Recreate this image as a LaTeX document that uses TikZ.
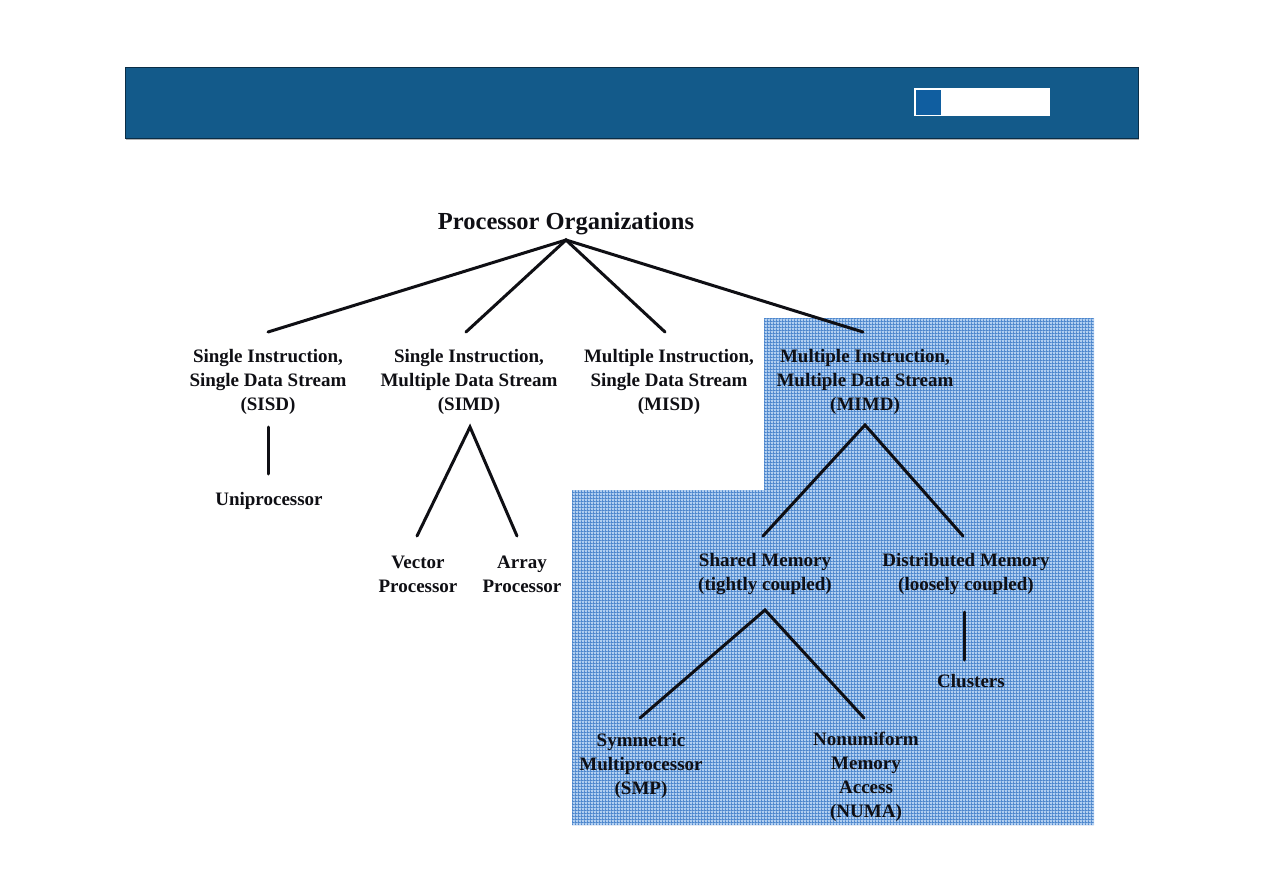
\documentclass[tikz,border=0pt]{standalone}
\usepackage{fontspec}
\setmainfont{Liberation Serif}
\usetikzlibrary{patterns}
\pgfdeclarepatternformonly{finegrid}{\pgfpointorigin}{\pgfpoint{3.2pt}{3.2pt}}{\pgfpoint{3.2pt}{3.2pt}}{%
  \pgfsetlinewidth{1pt}%
  \pgfpathmoveto{\pgfpoint{0pt}{0.5pt}}\pgfpathlineto{\pgfpoint{3.2pt}{0.5pt}}%
  \pgfpathmoveto{\pgfpoint{0.5pt}{0pt}}\pgfpathlineto{\pgfpoint{0.5pt}{3.2pt}}%
  \pgfusepath{stroke}}
\definecolor{barblue}{RGB}{19,90,138}
\definecolor{baredge}{RGB}{10,45,70}
\definecolor{sqblue}{RGB}{16,94,160}
\definecolor{shadebg}{RGB}{178,207,240}
\definecolor{shadeline}{RGB}{78,135,205}
\definecolor{ink}{RGB}{15,15,20}
\begin{document}
\begin{tikzpicture}[x=1pt,y=-1pt,
  lbl/.style={font=\fontsize{19}{24}\selectfont\bfseries, align=center, inner sep=0pt, text=ink},
  ttl/.style={font=\fontsize{24.5}{28}\selectfont\bfseries, inner sep=0pt, text=ink},
  edge/.style={draw=ink, line width=3pt, line cap=round}]
\useasboundingbox[fill=white] (0,0) rectangle (1263,893);
% header bar
\fill[gray!60] (126,138) rectangle (1139,140);
\draw[fill=barblue, draw=baredge, line width=0.8pt] (125,67) rectangle (1138,138);
\fill[white] (914,88) rectangle (1050,116);
\fill[sqblue] (916,90) rectangle (941,115);
% shaded region
\path[preaction={fill=shadebg}, pattern=finegrid, pattern color=shadeline]
  (764,318) -- (1094,318) -- (1094,825) -- (572,825) -- (572,490) -- (764,490) -- cycle;
% nodes
\node[ttl] (root) at (566,224) {Processor Organizations};
\node[lbl] (sisd) at (268,382) {Single Instruction,\\Single Data Stream\\(SISD)};
\node[lbl] (simd) at (469,382) {Single Instruction,\\Multiple Data Stream\\(SIMD)};
\node[lbl] (misd) at (669,382) {Multiple Instruction,\\Single Data Stream\\(MISD)};
\node[lbl] (mimd) at (865,382) {Multiple Instruction,\\Multiple Data Stream\\(MIMD)};
\node[lbl] (uni) at (269,501) {Uniprocessor};
\node[lbl] (vec) at (418,574) {Vector\\Processor};
\node[lbl] (arr) at (522,574) {Array\\Processor};
\node[lbl] (shm) at (765,574) {Shared Memory\\(tightly coupled)};
\node[lbl] (dsm) at (966,574) {Distributed Memory\\(loosely coupled)};
\node[lbl] (clu) at (971,681) {Clusters};
\node[lbl] (smp) at (641,766) {Symmetric\\Multiprocessor\\(SMP)};
\node[lbl] (numa) at (866,777) {Nonumiform\\Memory\\Access\\(NUMA)};
% connector end points
\coordinate (rootA) at (566,240);
\coordinate (sisdT) at (268,332);
\coordinate (simdT) at (466,332);
\coordinate (misdT) at (665,332);
\coordinate (mimdT) at (863,332);
\coordinate (sisdB) at (268,427);
\coordinate (uniT) at (268,474);
\coordinate (simdA) at (470,427);
\coordinate (vecT) at (417,536);
\coordinate (arrT) at (517,536);
\coordinate (mimdA) at (865,425);
\coordinate (shmT) at (763,536);
\coordinate (dsmT) at (963,536);
\coordinate (shmA) at (765,610);
\coordinate (smpT) at (640,718);
\coordinate (numaT) at (864,718);
\coordinate (dsmB) at (964,612);
\coordinate (cluT) at (964,660);
% connectors
\draw[edge] (sisdT) -- (rootA) -- (mimdT);
\draw[edge] (simdT) -- (rootA) -- (misdT);
\draw[edge] (sisdB) -- (uniT);
\draw[edge] (vecT) -- (simdA) -- (arrT);
\draw[edge] (shmT) -- (mimdA) -- (dsmT);
\draw[edge] (smpT) -- (shmA) -- (numaT);
\draw[edge] (dsmB) -- (cluT);
\end{tikzpicture}
\end{document}
